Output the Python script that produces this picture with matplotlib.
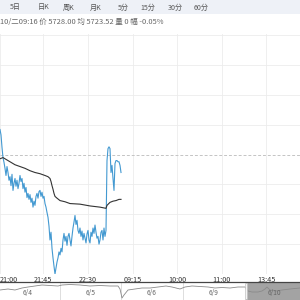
import matplotlib
matplotlib.use('Agg')
import matplotlib.pyplot as plt
from matplotlib.patches import Rectangle
import numpy as np

plt.rcParams['font.family'] = ['Noto Sans CJK SC', 'DejaVu Sans']

# 顶部周期按钮与信息栏
tabs = ['5日', '日K', '周K', '月K', '5分', '15分', '30分', '60分']
info = '10/二09:16 价 5728.00 均 5723.52 量 0 幅 -0.05%'
prev_close = 5731.0

# 分时价格（每分钟一个点）
night_price = [
    5735.2, 5734.3, 5732.2, 5730.5, 5729.7, 5728.7, 5727.5, 5729.0, 5728.0, 5726.7,
    5727.3, 5725.8, 5727.7, 5725.0, 5726.2, 5727.0, 5725.7, 5726.7, 5725.3, 5726.2,
    5727.5, 5726.5, 5727.0, 5725.3, 5726.2, 5724.7, 5725.5, 5723.8, 5724.5, 5723.5,
    5724.3, 5723.0, 5723.7, 5722.2, 5723.2, 5722.5, 5724.0, 5724.5, 5723.7, 5724.8,
    5725.0, 5724.0, 5724.7, 5723.7, 5724.0, 5722.8, 5722.2, 5721.3, 5720.5, 5719.0,
    5716.7, 5718.0, 5715.3, 5713.7, 5712.3, 5711.0, 5712.0, 5713.0, 5713.7, 5714.7,
    5714.2, 5715.3, 5714.7, 5716.7, 5717.8, 5716.5, 5717.3, 5715.8, 5717.3, 5717.8,
    5716.7, 5715.7, 5717.3, 5718.7, 5719.7, 5720.8, 5719.3, 5720.0, 5718.3, 5717.8,
    5718.7, 5717.3, 5718.2, 5716.7, 5717.8, 5717.0, 5716.2, 5717.7, 5718.3, 5716.7,
    5716.2, 5718.0, 5717.3, 5718.7, 5717.8, 5719.2, 5718.0, 5717.0, 5717.3, 5716.0,
    5716.7, 5718.0, 5718.3, 5716.7, 5718.7, 5717.3, 5718.3,
]
morning_price = [
    5730.0, 5732.0, 5732.3, 5732.0, 5728.0, 5729.2, 5727.0, 5725.0, 5729.5, 5730.0,
    5730.0, 5729.8, 5729.8, 5729.2, 5728.0,
]

# 均价线
avg_x = [0, 3, 6, 10, 15, 20, 25, 30, 35, 40, 45, 48, 50, 51, 52, 53, 54, 55, 57, 60,
         65, 70, 80, 90, 100, 106, 107, 110, 113, 116, 119, 121]
avg_price = [5730.3, 5730.5, 5730.2, 5729.8, 5729.3, 5729.0, 5728.7, 5728.3, 5728.0, 5727.8,
             5727.5, 5727.3, 5727.0, 5726.5, 5725.8, 5725.2, 5724.5, 5724.0, 5723.7, 5723.3,
             5723.1, 5722.8, 5722.7, 5722.4, 5722.2, 5722.0, 5722.5, 5723.0, 5723.2, 5723.3,
             5723.5, 5723.5]

time_ticks = [0, 43, 88, 132.5, 177, 221.5, 266]
time_labels = ['21:00', '21:45', '22:30', '09:15', '10:00', '11:00', '13:45']

# 底部缩略导航
day_pos = [28, 91, 152, 214, 274]
day_labels = ['6/4', '6/5', '6/6', '6/9', '6/10']
day_breaks = [60, 121, 183]
nav_x = [0, 8, 15, 22, 28, 35, 42, 50, 58, 62, 70, 80, 90, 100, 110, 118, 120, 122, 124,
         128, 135, 142, 150, 158, 166, 172, 180, 185, 192, 200, 208, 215, 222, 230, 238,
         245, 248, 252, 258, 262, 265, 267, 270, 276, 282, 290, 300]
nav_level = [10, 11, 10, 12, 13, 14, 15, 14.5, 14, 15, 15.5, 15, 14, 14.5, 14, 14, 11, 2, 5,
             10, 11, 12, 12, 13, 14, 13, 11, 13, 14, 13.5, 13, 12, 12.5, 12, 13,
             13, 9, 8, 8, 9, 11, 13, 10, 9, 10, 11, 12]

fig = plt.figure(figsize=(3, 3), dpi=100)

# 工具栏
fig.patches.append(Rectangle((0, 1 - 14 / 300), 1, 14 / 300, transform=fig.transFigure,
                             facecolor='#eef1f7', edgecolor='none', zorder=0))
tab_x = [15, 44, 69, 96, 123, 148, 175, 201]
for tx, t in zip(tab_x, tabs):
    fig.text(tx / 300, 1 - 7.5 / 300, t, ha='center', va='center', fontsize=5.1, color='#555555')
fig.text(0, 1 - 22 / 300, info, ha='left', va='center', fontsize=5.4, color='#666666')

# 主图
ax = fig.add_axes([0, 26 / 300, 1, 240 / 300])
x_price = np.arange(len(night_price) + len(morning_price))
price = night_price + morning_price
ax.plot(x_price, price, color='#4399d1', lw=0.8, zorder=3)
ax.plot(avg_x, avg_price, color='#333333', lw=0.8, zorder=3)
ax.axhline(prev_close, color='#c4c4c4', lw=0.7, ls=(0, (3, 2)), zorder=2)

ax.set_xlim(0, 300)
ax.set_ylim(5711, 5751.2)
grid_prices = [p for p in np.arange(5711, 5752, 5) if p != prev_close]
ax.set_yticks(grid_prices)
ax.set_yticklabels([])
ax.set_xticks(time_ticks)
ax.set_xticklabels(time_labels)
ax.grid(True, color='#ececec', lw=0.6, zorder=0)
ax.tick_params(length=0, pad=1.2, labelsize=5.2, colors='#333333')
ax.get_xticklabels()[0].set_ha('left')
for s in ax.spines.values():
    s.set_visible(False)
ax.text(293, -0.032, '14:30', transform=ax.get_xaxis_transform(), ha='left', va='top',
        fontsize=5.2, color='#333333', clip_on=False)

# 导航条
nav = fig.add_axes([0, 0, 1, 18 / 300])
nav.set_xlim(0, 300)
nav.set_ylim(0, 18)
nav.axvspan(246, 300, color='#a3a3a3', zorder=0)
nav.plot(nav_x, nav_level, color='#8a8a8a', lw=0.6, zorder=2)
for b in day_breaks:
    nav.axvline(b, color='#d8d8d8', lw=0.6, zorder=1)
nav.add_patch(Rectangle((244.5, 1), 2.5, 16, facecolor='#f4f4f4', edgecolor='#bbbbbb',
                        lw=0.4, zorder=3))
for dx, d in zip(day_pos, day_labels):
    nav.text(dx, 7, d, ha='center', va='center', fontsize=4.8, color='#666666', zorder=4)
nav.set_xticks([])
nav.set_yticks([])
for k, s in nav.spines.items():
    s.set_visible(k == 'top')
nav.spines['top'].set_color('#444444')
nav.spines['top'].set_linewidth(0.9)

fig.savefig('out.png', dpi=100)
